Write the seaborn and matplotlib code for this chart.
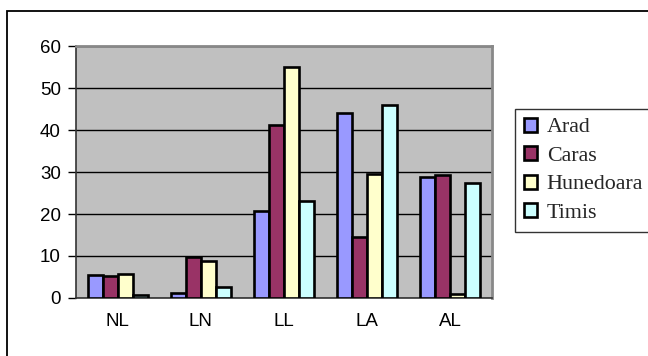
import matplotlib
matplotlib.use("Agg")
import matplotlib.pyplot as plt
from matplotlib.patches import Rectangle, Patch
import seaborn as sns
import pandas as pd
import numpy as np

categories = ["NL", "LN", "LL", "LA", "AL"]
arad = [5.4, 1.2, 20.6, 44.1, 28.8]
caras = [5.2, 9.8, 41.3, 14.6, 29.2]
hunedoara = [5.6, 8.9, 55.0, 29.6, 1.0]
timis = [0.8, 2.6, 23.0, 45.9, 27.5]
series_names = ["Arad", "Caras", "Hunedoara", "Timis"]
colors = ["#9999FF", "#993366", "#FFFFCC", "#CCFFFF"]
y_ticks = [0, 10, 20, 30, 40, 50, 60]

rows = []
for name, vals in zip(series_names, [arad, caras, hunedoara, timis]):
    for cat, v in zip(categories, vals):
        rows.append({"category": cat, "county": name, "value": v})
df = pd.DataFrame(rows)

sns.set_theme(style="white")
plt.rcParams["font.family"] = ["Liberation Sans", "DejaVu Sans"]

W, H = 648, 356
fig = plt.figure(figsize=(W / 100, H / 100), dpi=100)
ax = fig.add_axes([76 / W, 1 - 298 / H, (492 - 76) / W, (298 - 46) / H])
ax.set_facecolor("#C0C0C0")

sns.barplot(data=df, x="category", y="value", hue="county", order=categories,
            hue_order=series_names, palette=colors, width=0.72, gap=0,
            edgecolor="black", linewidth=1.9, saturation=1, ax=ax,
            legend=False, zorder=3)

ax.set_ylim(0, 60)
ax.set_xlim(-0.5, len(categories) - 0.5)
ax.set_yticks(y_ticks)
ax.yaxis.grid(True, color="black", linewidth=1.0, zorder=1)
ax.set_axisbelow(True)
ax.set_xlabel("")
ax.set_ylabel("")

ax.set_xticks(range(len(categories)))
ax.set_xticklabels(categories)
ax.set_xticks(np.arange(-0.5, len(categories), 1.0), minor=True)
ax.tick_params(axis="x", which="major", length=0, pad=11, labelsize=13.5, colors="black")
ax.tick_params(axis="x", which="minor", length=5, width=1, color="#555555", direction="out")
ax.tick_params(axis="y", which="major", length=6, width=1, color="black",
               direction="out", left=True, labelsize=13.5, pad=5)
ax.tick_params(axis="y", labelcolor="black")

for side in ["left", "bottom"]:
    ax.spines[side].set_color("#333333")
    ax.spines[side].set_linewidth(1.2)
for side in ["top", "right"]:
    ax.spines[side].set_visible(True)
    ax.spines[side].set_color("#888888")
    ax.spines[side].set_linewidth(2.0)

handles = [Patch(facecolor=c, edgecolor="black", linewidth=1.9) for c in colors]
leg = fig.legend(handles, series_names, loc="upper left",
                 bbox_to_anchor=(515 / W, 1 - 109 / H), bbox_transform=fig.transFigure,
                 borderaxespad=0, fancybox=False, frameon=True, framealpha=1,
                 edgecolor="#333333", handlelength=0.6, handleheight=0.6,
                 handletextpad=0.45, labelspacing=0.4, borderpad=0.4,
                 prop={"family": "Liberation Serif", "size": 15.8})
leg.get_frame().set_linewidth(1.0)

fig.patches.append(Rectangle((7 / W, -0.2), 2.0, 1.2 - 11 / H, transform=fig.transFigure,
                             fill=False, edgecolor="black", linewidth=1.3))

fig.savefig("out.png", dpi=100)
